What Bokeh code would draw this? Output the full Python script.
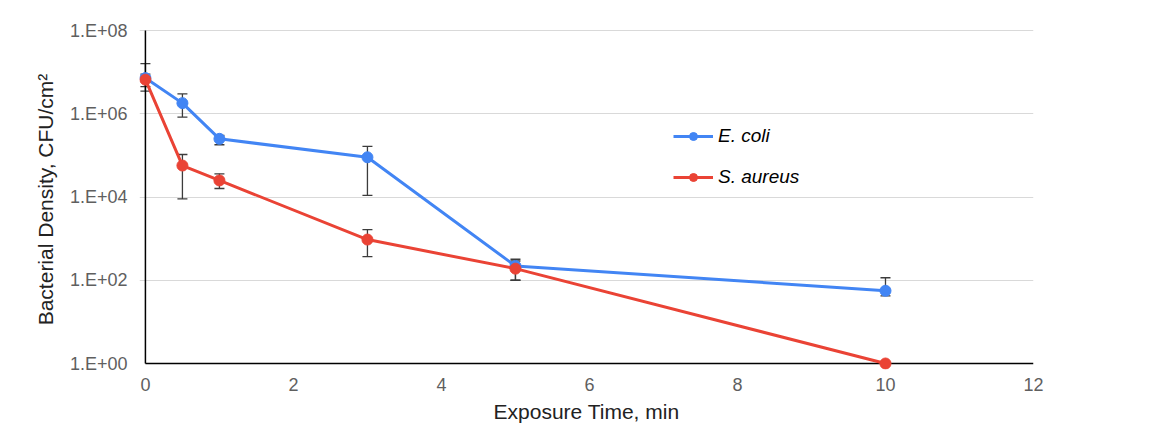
from bokeh.plotting import figure
from bokeh.models import (ColumnDataSource, Whisker, TeeHead, FixedTicker,
                          CustomJSTickFormatter, Legend, LegendItem, Range1d, BoxAnnotation)
from bokeh.embed import file_html
from bokeh.resources import INLINE

# ---- data ----
time_min = [0, 0.5, 1, 3, 5, 10]
ecoli = [7.2e6, 1.8e6, 2.5e5, 9.0e4, 2.2e2, 5.6e1]
ecoli_lo = [3.5e6, 8.3e5, 1.8e5, 1.1e4, 1.0e2, 4.2e1]
ecoli_hi = [1.6e7, 3.0e6, 3.0e5, 1.65e5, 3.2e2, 1.15e2]
saureus = [6.6e6, 5.7e4, 2.5e4, 9.5e2, 1.9e2, 1.0]
saureus_lo = [4.5e6, 9.0e3, 1.6e4, 3.7e2, 1.0e2, 1.0]
saureus_hi = [9.0e6, 1.05e5, 3.6e4, 1.65e3, 2.9e2, 1.0]

series_names = ["E. coli", "S. aureus"]
series_colors = ["#4285F4", "#EA4335"]

x_ticks = [0, 2, 4, 6, 8, 10, 12]
y_ticks = [1, 1e2, 1e4, 1e6, 1e8]
y_tick_labels = ["1.E+00", "1.E+02", "1.E+04", "1.E+06", "1.E+08"]

x_title = "Exposure Time, min"
y_title = "Bacterial Density, CFU/cm\u00b2"

FONT = "Liberation Sans"

p = figure(width=1163, height=439,
           x_range=Range1d(-0.08, 12), y_range=Range1d(0.718, 1.057e8),
           y_axis_type="log", output_backend="svg", toolbar_location=None,
           min_border_left=139, min_border_right=130,
           min_border_top=29, min_border_bottom=70)
p.outline_line_color = None
p.background_fill_color = "white"
p.border_fill_color = "white"

# grid
p.xgrid.visible = False
p.ygrid.ticker = FixedTicker(ticks=y_ticks[1:])
p.ygrid.grid_line_color = "#d9d9d9"
p.ygrid.grid_line_width = 1

# axes (labels only; lines drawn at x=0 / y=1 below)
for ax in (p.xaxis[0], p.yaxis[0]):
    ax.axis_line_color = None
    ax.major_tick_line_color = None
    ax.minor_tick_line_color = None
    ax.major_tick_out = 0
    ax.major_tick_in = 0
    ax.major_label_text_font = FONT
    ax.major_label_text_font_size = "18px"
    ax.major_label_text_color = "#5f5f5f"
    ax.axis_label_text_font = FONT
    ax.axis_label_text_font_size = "21px"
    ax.axis_label_text_font_style = "normal"
    ax.axis_label_text_color = "#222222"

p.xaxis.ticker = FixedTicker(ticks=x_ticks)
p.xaxis.major_label_standoff = 8
p.xaxis.axis_label = x_title
p.xaxis.axis_label_standoff = 6

p.yaxis.ticker = FixedTicker(ticks=y_ticks)
p.yaxis.formatter = CustomJSTickFormatter(
    args=dict(tick_vals=y_ticks, tick_texts=y_tick_labels), code="""
let best = 0, d = Infinity;
for (let i = 0; i < tick_vals.length; i++) {
  const e = Math.abs(Math.log10(tick_vals[i]) - Math.log10(tick));
  if (e < d) { d = e; best = i; }
}
return tick_texts[best];
""")
p.yaxis.major_label_standoff = 12
p.yaxis.axis_label = y_title
p.yaxis.axis_label_standoff = 10

# axis lines through the origin (x = 0, y = 1)
p.segment(x0=[x_ticks[0], x_ticks[0]], y0=[y_ticks[0], y_ticks[0]],
          x1=[x_ticks[-1], x_ticks[0]], y1=[y_ticks[0], y_ticks[-1]],
          line_color="black", line_width=1.5)

items = []
for name, color, vals, lo, hi in [
        (series_names[0], series_colors[0], ecoli, ecoli_lo, ecoli_hi),
        (series_names[1], series_colors[1], saureus, saureus_lo, saureus_hi)]:
    src = ColumnDataSource(dict(x=time_min, y=vals, lo=lo, hi=hi))
    w = Whisker(base="x", lower="lo", upper="hi", source=src, dimension="height",
                line_color="#3c3c3c", line_width=1.3, level="underlay",
                upper_head=TeeHead(size=10, line_color="#3c3c3c", line_width=1.3),
                lower_head=TeeHead(size=10, line_color="#3c3c3c", line_width=1.3))
    p.add_layout(w)
    items.append((name, color, src))

legend_items = []
for name, color, src in items:
    l = p.line("x", "y", source=src, line_color=color, line_width=3)
    s = p.scatter("x", "y", source=src, size=11, fill_color=color, line_color=color)
    legend_items.append(LegendItem(label=name, renderers=[l, s]))

legend = Legend(items=legend_items, location=(534, 181),
                label_text_font=FONT, label_text_font_style="italic",
                label_text_font_size="19px", label_text_color="black",
                background_fill_alpha=0, border_line_alpha=0,
                glyph_width=40, glyph_height=20, label_height=20,
                label_standoff=5, spacing=19, padding=0, margin=0)
p.add_layout(legend)

# faint outer frame of the original chart image
outer = BoxAnnotation(left=10, right=1400, top=7, bottom=1000,
                      left_units="canvas", right_units="canvas",
                      top_units="canvas", bottom_units="canvas",
                      fill_alpha=0, line_color="#e2e2e2", line_width=2,
                      level="overlay")
p.add_layout(outer)

open("out.html", "w").write(file_html(p, INLINE))
